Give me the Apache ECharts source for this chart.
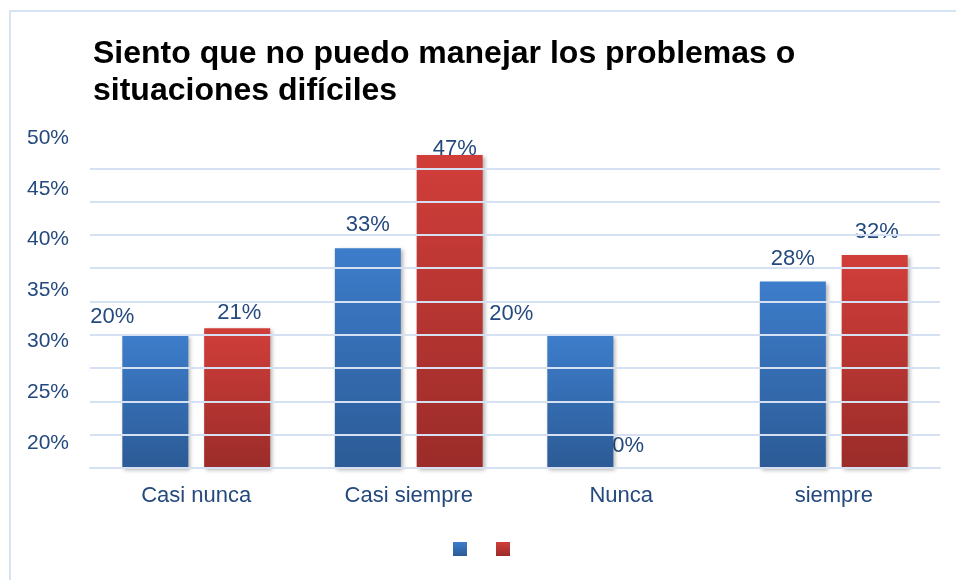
<!DOCTYPE html>
<html>
<head>
<meta charset="utf-8">
<script src="https://cdn.jsdelivr.net/npm/echarts@6/dist/echarts.min.js"></script>
<style>
html,body{margin:0;padding:0;background:#fff;}
#chart{width:956px;height:580px;}
</style>
</head>
<body>
<div id="chart"></div>
<script>
const titleText = 'Siento que no puedo manejar los problemas o\nsituaciones difíciles';
const categories = ['Casi nunca', 'Casi siempre', 'Nunca', 'siempre'];
const seriesNames = ['Serie 1', 'Serie 2'];
const blueValues = [20, 33, 20, 28];
const redValues = [21, 47, 0, 32];
const yTickLabels = ['20%', '25%', '30%', '35%', '40%', '45%', '50%'];

const textColor = '#24497e';
const gridColor = '#d5e1f2';
const FONT = 'Liberation Sans, Arial, sans-serif';

// label placement as seen in the reference (style, not data)
const barHalfStep = 41;
const labelShifts = [
  [[-43, 5], [0, 0], [-69, 2], [0, 0]],
  [[2, 8], [5, 17], [-34, 1], [2, 0]]
];

function grad(top, bottom) {
  return new echarts.graphic.LinearGradient(0, 0, 0, 1, [
    { offset: 0, color: top }, { offset: 1, color: bottom }
  ]);
}

function labelSeries(values, sIdx) {
  const side = sIdx === 0 ? -barHalfStep : barHalfStep;
  return {
    type: 'scatter', xAxisIndex: 0, yAxisIndex: 0, z: 1,
    symbolSize: 0.1, silent: true,
    itemStyle: { color: 'rgba(0,0,0,0)', opacity: 1 },
    data: values.map((v, i) => ({
      value: [i, v],
      label: { offset: [side + labelShifts[sIdx][i][0], labelShifts[sIdx][i][1]] }
    })),
    label: {
      show: true, position: 'top', distance: 12, opacity: 1,
      formatter: p => p.value[1] + '%',
      color: textColor, fontSize: 22, fontFamily: FONT
    }
  };
}

const barShadow = { shadowColor: 'rgba(0,0,0,0.3)', shadowBlur: 4, shadowOffsetX: 2, shadowOffsetY: 2 };

const chart = echarts.init(document.getElementById('chart'), null, { renderer: 'canvas' });
chart.setOption({
  animation: false,
  backgroundColor: '#fff',
  title: {
    text: titleText,
    left: 88, top: 31,
    textStyle: { fontFamily: FONT, fontSize: 32, fontWeight: 'bold', color: '#000', lineHeight: 37 }
  },
  graphic: [{
    type: 'rect', shape: { x: 10, y: 11, width: 1200, height: 1000 },
    style: { fill: 'none', stroke: '#d6e3f3', lineWidth: 2 }, silent: true
  }],
  legend: {
    bottom: 19, left: 448,
    itemWidth: 14, itemHeight: 14, itemGap: 29,
    icon: 'rect',
    formatter: () => '',
    data: seriesNames
  },
  grid: [
    { left: 90, right: 16, top: 135, bottom: 112 },
    { left: 90, right: 16, top: 138, bottom: 137 }
  ],
  xAxis: [
    {
      type: 'category', gridIndex: 0, data: categories,
      axisLine: { show: true, lineStyle: { color: gridColor, width: 2 } },
      axisTick: { show: false },
      axisLabel: { color: textColor, fontSize: 22, fontFamily: FONT, margin: 17 },
      z: 5
    },
    { type: 'value', gridIndex: 1, show: false }
  ],
  yAxis: [
    {
      type: 'value', gridIndex: 0, min: 0, max: 50, interval: 5,
      axisLabel: { show: false },
      axisLine: { show: false }, axisTick: { show: false },
      splitLine: { show: true, showMaxLine: false, lineStyle: { color: gridColor, width: 2 } },
      z: 5
    },
    {
      type: 'category', gridIndex: 1, data: yTickLabels, boundaryGap: false,
      axisLine: { show: false }, axisTick: { show: false }, splitLine: { show: false },
      axisLabel: { color: textColor, fontSize: 21, fontFamily: FONT, margin: 21, interval: 0 }
    }
  ],
  series: [
    {
      name: seriesNames[0], type: 'bar', xAxisIndex: 0, yAxisIndex: 0, z: 2,
      barWidth: 66, barGap: '24%',
      data: blueValues,
      itemStyle: Object.assign({ color: grad('#3d7dcb', '#2c5b96') }, barShadow)
    },
    {
      name: seriesNames[1], type: 'bar', xAxisIndex: 0, yAxisIndex: 0, z: 2,
      barWidth: 66, barGap: '24%',
      data: redValues,
      itemStyle: Object.assign({ color: grad('#d13e3a', '#9b2c29') }, barShadow)
    },
    labelSeries(blueValues, 0),
    labelSeries(redValues, 1)
  ]
});
</script>
</body>
</html>
